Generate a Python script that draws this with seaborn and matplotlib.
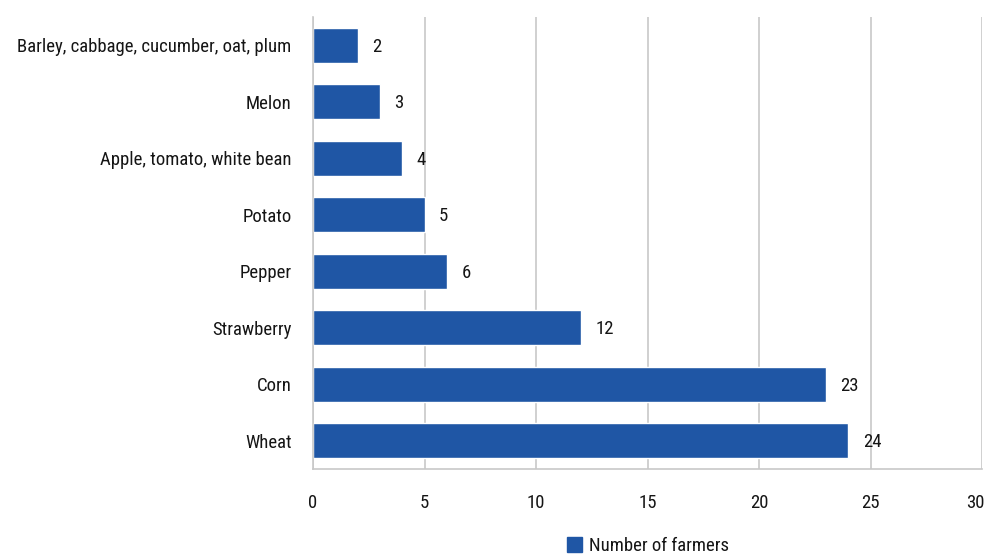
import matplotlib
matplotlib.use("Agg")
import matplotlib.pyplot as plt
import matplotlib.font_manager as fm
import matplotlib.transforms as mtransforms
from matplotlib.ticker import FixedLocator
from matplotlib.patches import Patch
import seaborn as sns
import pandas as pd

crops = ["Barley, cabbage, cucumber, oat, plum", "Melon", "Apple, tomato, white bean",
         "Potato", "Pepper", "Strawberry", "Corn", "Wheat"]
farmers = [2, 3, 4, 5, 6, 12, 23, 24]
x_ticks = [0, 5, 10, 15, 20, 25, 30]
series_name = "Number of farmers"

bar_color = "#1f56a5"
grid_color = "#c8c8c8"
text_color = "#151515"

sns.set_style("white")

# pick a narrow face for the labels
fonts = fm.fontManager.ttflist
names = {f.name for f in fonts}
family, stretch = None, "normal"
for cand in ["Liberation Sans Narrow", "Roboto Condensed", "Open Sans Condensed",
             "Noto Sans Condensed", "DejaVu Sans Condensed"]:
    if cand in names:
        family = cand
        break
if family is None:
    narrow = [f for f in fonts if ("Condensed" in f.name or "Narrow" in f.name)]
    if narrow:
        family = narrow[0].name
if family is None:
    cond = [f for f in fonts if str(f.stretch) in ("condensed", "semi-condensed", "500", "600", "700", "75", "87.5")
            or (isinstance(f.stretch, (int, float)) and f.stretch < 100)]
    if cond:
        family = cond[0].name
        stretch = "condensed"
if family is None:
    family = "DejaVu Sans"
plt.rcParams["font.family"] = [family, "DejaVu Sans"]
plt.rcParams["font.stretch"] = stretch

fs = 13.5

df = pd.DataFrame({"crop": crops, "farmers": farmers})

fig = plt.figure(figsize=(9.89, 5.56), dpi=100)
ax = fig.add_axes([0.3165, 0.1565, 0.6765, 0.8129])

sns.barplot(data=df, y="crop", x="farmers", color=bar_color, saturation=1,
            width=0.62, ax=ax, orient="h")

ax.set_xlim(0, 30)
ax.set_ylim(len(crops) - 0.5, -0.5)
ax.set_xticks(x_ticks)
ax.set_xticklabels([str(t) for t in x_ticks], fontsize=fs, color=text_color)
for lbl in ax.get_yticklabels():
    lbl.set_color(text_color)
ax.tick_params(axis="y", labelsize=fs, length=0, pad=15.5)
ax.yaxis.set_minor_locator(FixedLocator([i - 0.5 for i in range(len(crops) + 1)]))
ax.tick_params(axis="y", which="minor", length=7, width=1.2, color=grid_color, direction="out")
ax.tick_params(axis="x", length=8, width=1.2, color=grid_color, direction="out", pad=10)
ax.xaxis.grid(True, color=grid_color, linewidth=1.2)
ax.set_axisbelow(True)
ax.set_xlabel("")
ax.set_ylabel("")

# keep the last x tick label inside the canvas
last = ax.get_xticklabels()[-1]
last.set_transform(last.get_transform() +
                   mtransforms.ScaledTranslation(-5 / 72, 0, fig.dpi_scale_trans))

for side in ["top", "right"]:
    ax.spines[side].set_visible(False)
for side in ["left", "bottom"]:
    ax.spines[side].set_color(grid_color)
    ax.spines[side].set_linewidth(1.2)

for i, v in enumerate(farmers):
    ax.annotate(str(v), xy=(v, i), xytext=(10.5, -1), textcoords="offset points",
                ha="left", va="center", fontsize=fs, color=text_color)

handle = Patch(facecolor=bar_color, edgecolor=bar_color)
fig.legend([handle], [series_name], loc="center", bbox_to_anchor=(0.655, 0.018),
           frameon=False, fontsize=fs, handlelength=0.8, handleheight=0.8,
           handletextpad=0.4, labelcolor=text_color)

fig.savefig("out.png", dpi=100)
